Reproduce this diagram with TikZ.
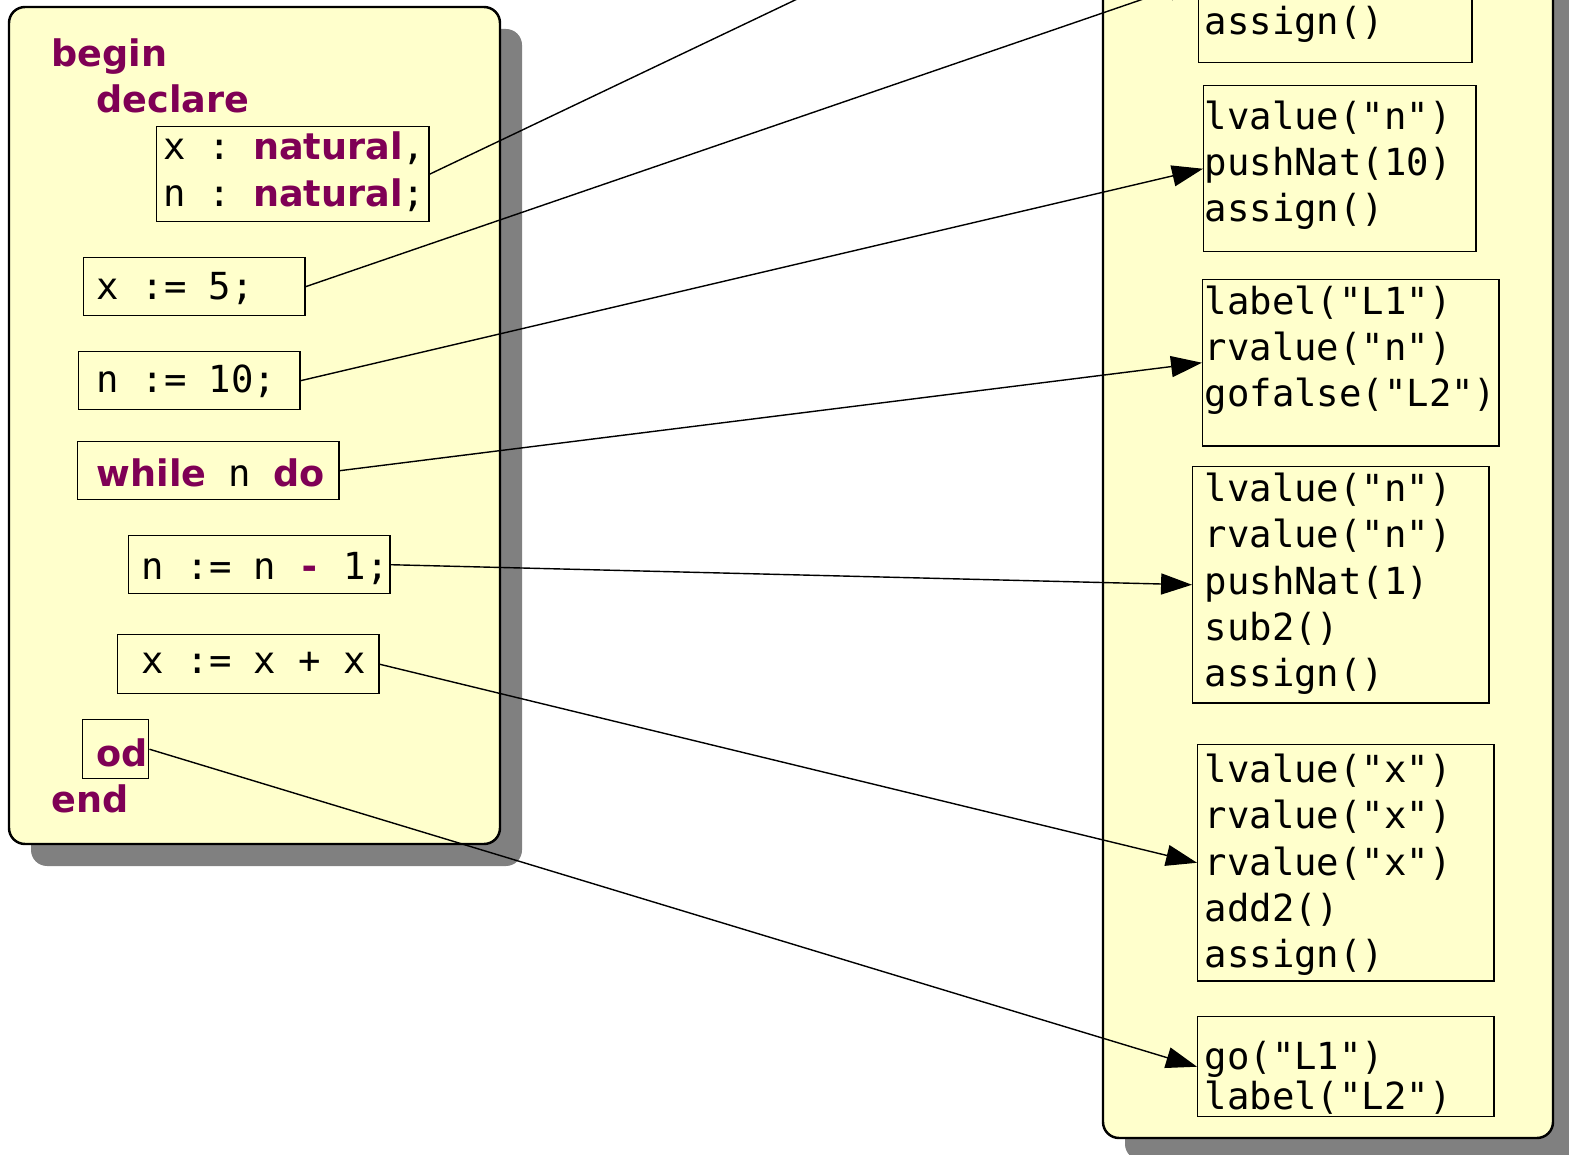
\documentclass[tikz,border=0pt]{standalone}
\usepackage{fontspec}
\newfontfamily\codefont{DejaVu Sans Mono}
\newfontfamily\kwfontfam{DejaVu Sans}
\usetikzlibrary{arrows.meta}
\definecolor{panelfill}{RGB}{255,255,204}
\definecolor{kwcol}{RGB}{127,0,85}
\definecolor{shadowgray}{RGB}{128,128,128}
\newcommand\kw[1]{{\kwfontfam\bfseries\fontsize{10.4}{13}\selectfont\color{kwcol}#1}}
\newcommand\kwm[1]{{\bfseries\color{kwcol}#1}}
\tikzset{
  panel/.style={draw=black, line width=0.7pt, fill=panelfill, rounded corners=0.16cm},
  shadowpanel/.style={fill=shadowgray, rounded corners=0.16cm},
  stmtbox/.style={draw=black, line width=0.4pt, inner sep=0pt, anchor=north west},
  code/.style={font=\codefont\fontsize{10.6}{13.09}\selectfont, inner sep=0pt, anchor=base west},
  kwtext/.style={font=\kwfontfam\bfseries\fontsize{10.4}{13}\selectfont, text=kwcol, inner sep=0pt, anchor=base west},
  link/.style={line width=0.4pt, -{Triangle[length=8.8pt,width=6pt]}},
}
\begin{document}
\begin{tikzpicture}[x=0.01cm, y=-0.01cm]
\useasboundingbox (0,0) rectangle (1569,1155);
\clip (0,0) rectangle (1569,1155);
\fill[white] (0,0) rectangle (1569,1155);

% left panel
\fill[shadowpanel] (31,29) rectangle (522,866);
\draw[panel] (9,7) rectangle (500,844);

% right panel
\fill[shadowpanel] (1125,-300) rectangle (1575,1160);
\draw[panel] (1103,-322) rectangle (1553,1138);

% left text
\node[kwtext] (tbegin) at (51,67) {begin};
\node[kwtext] (tdeclare) at (96,113) {declare};
\node[kwtext] (tend) at (51,813) {end};

% left statement boxes
\node[stmtbox, minimum width=2.72cm, minimum height=0.95cm] (decl) at (156,126) {};
\node[code] (decl1) at (163,160) {x : \kern-2.2pt\kw{natural},};
\node[code] (decl2) at (163,207) {n : \kern-2.2pt\kw{natural};};

\node[stmtbox, minimum width=2.21cm, minimum height=0.58cm] (s1) at (83,257) {};
\node[code] (s1t) at (96,300) {x := 5;};

\node[stmtbox, minimum width=2.21cm, minimum height=0.58cm] (s2) at (78,351) {};
\node[code] (s2t) at (96,393) {n := 10;};

\node[stmtbox, minimum width=2.61cm, minimum height=0.58cm] (s3) at (77,441) {};
\node[code] (s3t) at (96,487) {\kw{while} n \kw{do}};

\node[stmtbox, minimum width=2.61cm, minimum height=0.58cm] (s4) at (128,535) {};
\node[code] (s4t) at (141,580) {n := n \kwm{-} 1;};

\node[stmtbox, minimum width=2.61cm, minimum height=0.59cm] (s5) at (117,634) {};
\node[code] (s5t) at (141,673) {x := x + x};

\node[stmtbox, minimum width=0.66cm, minimum height=0.59cm] (s6) at (82,719) {};
\node[kwtext] (s6t) at (96,767) {od};

% right code boxes
\node[stmtbox, minimum width=2.73cm, minimum height=1.65cm] (b0) at (1198,-103) {};
\node[code] (b0c) at (1204,35) {assign()};

\node[stmtbox, minimum width=2.72cm, minimum height=1.66cm] (b1) at (1203,85) {};
\node[code] (b1a) at (1204,130) {lvalue("n")};
\node[code] (b1b) at (1204,176) {pushNat(10)};
\node[code] (b1c) at (1204,222) {assign()};

\node[stmtbox, minimum width=2.96cm, minimum height=1.66cm] (b2) at (1202,279) {};
\node[code] (b2a) at (1204,315) {label("L1")};
\node[code] (b2b) at (1204,361) {rvalue("n")};
\node[code] (b2c) at (1204,407) {gofalse("L2")};

\node[stmtbox, minimum width=2.96cm, minimum height=2.36cm] (b3) at (1192,466) {};
\node[code] (b3a) at (1204,502) {lvalue("n")};
\node[code] (b3b) at (1204,548) {rvalue("n")};
\node[code] (b3c) at (1204,595) {pushNat(1)};
\node[code] (b3d) at (1204,641) {sub2()};
\node[code] (b3e) at (1204,687) {assign()};

\node[stmtbox, minimum width=2.96cm, minimum height=2.36cm] (b4) at (1197,744) {};
\node[code] (b4a) at (1204,782) {lvalue("x")};
\node[code] (b4b) at (1204,828) {rvalue("x")};
\node[code] (b4c) at (1204,875) {rvalue("x")};
\node[code] (b4d) at (1204,921) {add2()};
\node[code] (b4e) at (1204,967) {assign()};

\node[stmtbox, minimum width=2.96cm, minimum height=1.00cm] (b5) at (1197,1016) {};
\node[code] (b5a) at (1204,1069) {go("L1")};
\node[code] (b5b) at (1204,1109) {label("L2")};

% off-page target of the declarations
\coordinate (bdecl) at (1198,-192);

% connectors
\draw[link] (decl.east) -- (bdecl);
\draw[link] (s1.east) -- (b0.west);
\draw[link] (s2.east) -- (b1.west);
\draw[link] (s3.east) -- (b2.west);
\draw[link] (s4.east) -- (b3.west);
\draw[link] (s5.east) -- (b4.west);
\draw[link] (s6.east) -- (b5.west);
\end{tikzpicture}
\end{document}
